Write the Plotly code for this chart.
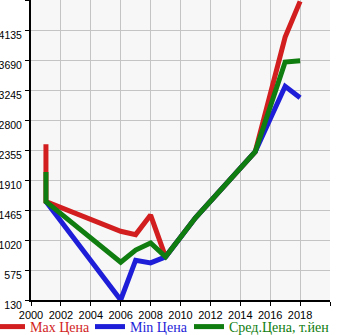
import plotly.graph_objects as go

years_max = [2001, 2001, 2006, 2007, 2008, 2009, 2011, 2015, 2017, 2018]
vals_max = [2440, 1590, 1150, 1100, 1390, 770, 1350, 2330, 4030, 4560]
years_min = [2001, 2006, 2007, 2008, 2009, 2011, 2015, 2017, 2018]
vals_min = [1590, 130, 720, 680, 770, 1350, 2330, 3300, 3130]
years_avg = [2001, 2001, 2006, 2007, 2008, 2009, 2011, 2015, 2017, 2018]
vals_avg = [2030, 1590, 690, 870, 975, 770, 1350, 2330, 3660, 3680]

x_ticks = [2000, 2002, 2004, 2006, 2008, 2010, 2012, 2014, 2016, 2018, 2020]
x_text = ["2000", "2002", "2004", "2006", "2008", "2010", "2012", "2014", "2016", "2018", ""]
y_ticks = [130, 575, 1020, 1465, 1910, 2355, 2800, 3245, 3690, 4135, 4580]
y_text = ["130", "575", "1020", "1465", "1910", "2355", "2800", "3245", "3690", "4135", ""]

RED = "#d21e1e"
BLUE = "#1e1ed8"
GREEN = "#0f7d0f"

W, H = 345, 335
ML, MR, MT, MB = 31, 15, 0, 35
PW, PH = W - ML - MR, H - MT - MB

fig = go.Figure()
fig.add_trace(go.Scatter(x=years_max, y=vals_max, mode="lines",
                         line=dict(color=RED, width=5),
                         name="Max Цена", legend="legend"))
fig.add_trace(go.Scatter(x=years_min, y=vals_min, mode="lines",
                         line=dict(color=BLUE, width=5),
                         name="Min Цена", legend="legend2"))
fig.add_trace(go.Scatter(x=years_avg, y=vals_avg, mode="lines",
                         line=dict(color=GREEN, width=5),
                         name="Сред.Цена, т.йен", legend="legend3"))


def leg(left_px, color):
    return dict(orientation="h", xref="paper", yref="paper",
                x=(left_px - ML) / PW, xanchor="left",
                y=-(327 - MT - PH) / PH, yanchor="middle",
                font=dict(family="Liberation Serif", size=14, color=color),
                itemwidth=30, bgcolor="rgba(0,0,0,0)", borderwidth=0)


fig.update_layout(
    width=W, height=H,
    margin=dict(l=ML, r=MR, t=MT, b=MB, autoexpand=False),
    paper_bgcolor="white",
    plot_bgcolor="#f7f7f7",
    showlegend=True,
    legend=leg(-10, RED),
    legend2=leg(90, BLUE),
    legend3=leg(189, GREEN),
    font=dict(family="Liberation Sans", size=11, color="black"),
)
fig.update_xaxes(range=[2000, 2020], tickvals=x_ticks, ticktext=x_text,
                 showgrid=True, gridcolor="#c4c4c4", gridwidth=1,
                 showline=True, linecolor="black", linewidth=2,
                 ticks="outside", ticklen=4, tickcolor="black", zeroline=False,
                 tickfont=dict(family="Liberation Sans", size=11))
fig.update_yaxes(range=[130, 4580], tickvals=y_ticks, ticktext=y_text,
                 showgrid=True, gridcolor="#c4c4c4", gridwidth=1,
                 showline=True, linecolor="black", linewidth=2,
                 ticks="outside", ticklen=4, tickcolor="black", zeroline=False,
                 ticklabelshift=5, ticklabelstandoff=1,
                 tickfont=dict(family="Liberation Sans", size=10.5))

fig.write_html("out.html")
